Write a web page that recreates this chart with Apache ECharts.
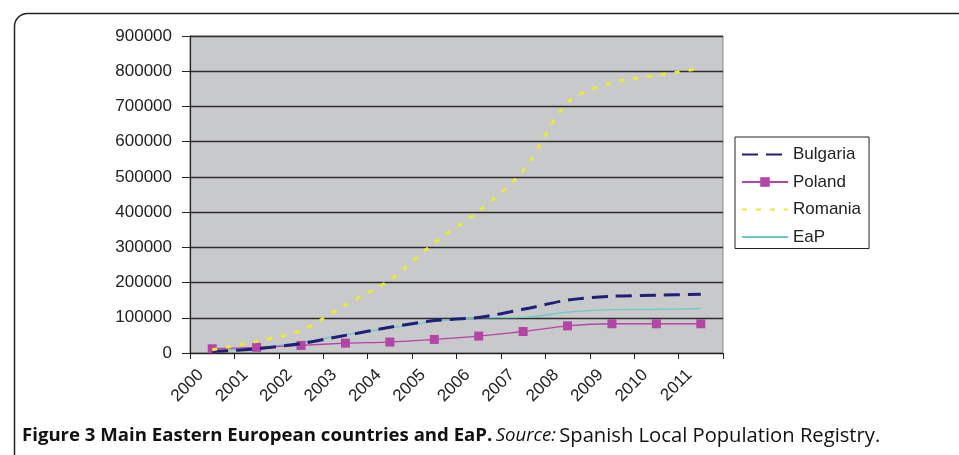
<!DOCTYPE html>
<html>
<head>
<meta charset="utf-8">
<script src="https://cdn.jsdelivr.net/npm/echarts@6/dist/echarts.min.js"></script>
<style>
html,body{margin:0;padding:0;background:#fff;}
#c{width:959px;height:455px;}
</style>
</head>
<body>
<div id="c"></div>
<script>
var years = ['2000','2001','2002','2003','2004','2005','2006','2007','2008','2009','2010','2011'];
var bulgaria = [4000, 12000, 27000, 50000, 73000, 92000, 101000, 124000, 150000, 161000, 164000, 167000];
var poland   = [12000, 16000, 21500, 28000, 31000, 38500, 48000, 61000, 77000, 83000, 83000, 83000];
var romania  = [9000, 33000, 64000, 137000, 207000, 313000, 403000, 517000, 711000, 767000, 788000, 808000];
var eap      = [5000, 14000, 30000, 52000, 71000, 90000, 100000, 101000, 116000, 123000, 124000, 126000];
var yTicks = { min: 0, max: 900000, step: 100000 };

var chart = echarts.init(document.getElementById('c'), null, {renderer: 'canvas'});
var font = 'Liberation Sans, Arial, sans-serif';
var hide = { opacity: 0 };
chart.setOption({
  animation: false,
  backgroundColor: '#fff',
  grid: { left: 190, right: 236, top: 36, bottom: 102, show: true, backgroundColor: '#c8c9cb', borderColor: '#8a8a8a', borderWidth: 1 },
  xAxis: {
    type: 'category', data: years, boundaryGap: true,
    axisLine: { show: true, lineStyle: { color: '#222', width: 1.2 } },
    axisTick: { show: true, interval: 0, length: 6, lineStyle: { color: '#222' } },
    axisLabel: { rotate: 45, fontSize: 17, fontFamily: font, color: '#222', margin: 8, interval: 0, padding: [0, 16, 0, 0] },
    splitLine: { show: false }
  },
  yAxis: {
    type: 'value', min: yTicks.min, max: yTicks.max, interval: yTicks.step,
    axisLine: { show: true, lineStyle: { color: '#222', width: 1.2 } },
    axisTick: { show: true, length: 8, lineStyle: { color: '#222' } },
    axisLabel: { fontSize: 17, fontFamily: font, color: '#222', margin: 18, formatter: function (v) { return String(v); } },
    splitLine: { show: true, lineStyle: { color: '#2c2c2c', width: 1.3 } }
  },
  legend: {
    orient: 'vertical', left: 735, top: 137,
    borderColor: '#222', borderWidth: 1, padding: [9, 8, 3, 6],
    itemWidth: 46, itemHeight: 12, itemGap: 10.5,
    textStyle: { fontSize: 17, fontFamily: font, color: '#222' },
    data: [
      { name: 'Bulgaria', itemStyle: hide },
      { name: 'Poland' },
      { name: 'Romania', itemStyle: hide },
      { name: 'EaP', itemStyle: hide }
    ]
  },
  series: [
    { name: 'Bulgaria', type: 'line', data: bulgaria, smooth: 0.3, symbol: 'none',
      lineStyle: { color: '#1f1f78', width: 3, type: [16, 8] }, itemStyle: { color: '#1f1f78' }, z: 4 },
    { name: 'Poland', type: 'line', data: poland, smooth: 0.2, symbol: 'rect', symbolSize: 9,
      lineStyle: { color: '#b445a6', width: 1.3 }, itemStyle: { color: '#b445a6' }, z: 3 },
    { name: 'Romania', type: 'line', data: romania, smooth: 0.3, symbol: 'none',
      lineStyle: { color: '#ecec2a', width: 3, type: [5, 9] }, itemStyle: { color: '#ecec2a' }, z: 5 },
    { name: 'EaP', type: 'line', data: eap, smooth: 0.3, symbol: 'none',
      lineStyle: { color: '#6ec9c6', width: 1.3 }, itemStyle: { color: '#6ec9c6' }, z: 2 }
  ],
  graphic: [
    { type: 'rect', left: 12, top: 11, shape: { x: 0, y: 0, width: 980, height: 470, r: 13 },
      style: { fill: 'none', stroke: '#222', lineWidth: 1.5 }, silent: true },
    { type: 'text', left: 22, top: 426,
      style: {
        text: '{b|Figure 3 Main Eastern European countries and EaP.} {i|Source:} {n|Spanish Local Population Registry.}',
        rich: {
          b: { fontFamily: 'Open Sans, sans-serif', fontWeight: 'bold', fontSize: 18.6, fill: '#111' },
          i: { fontFamily: 'Open Sans, sans-serif', fontStyle: 'italic', fontSize: 18.6, fill: '#111' },
          n: { fontFamily: 'Open Sans, sans-serif', fontSize: 20.2, fill: '#111' }
        }
      }
    }
  ]
});
</script>
</body>
</html>
